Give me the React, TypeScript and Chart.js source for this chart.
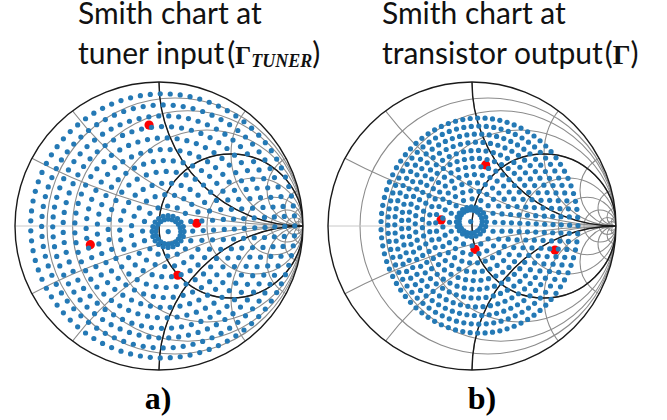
import React, { useEffect, useRef } from "react";
import { Chart, registerables } from "chart.js";

Chart.register(...registerables);

// ---- Smith chart grid values (normalized impedance) ----
const rLight = [0.125, 0.25, 0.5, 1, 2, 4, 8, 16, 32];
const xLight = [0.25, 0.5, 1, 2, 4, 8, 16, 32];
const rHeavy = [1];
const xHeavy = [1, -1];

// ---- a) tuner input: rings of tuner states (Γ units) ----
const ringCountA = [20, 20, 16, 23, 30, 36, 43, 50, 57, 63, 70, 76, 83];
const ringRadiusA = [0.087, 0.111, 0.174, 0.25, 0.326, 0.403, 0.476, 0.549, 0.625, 0.701, 0.771, 0.844, 0.917];
const ringCxA = [0.064, 0.063, 0.06, 0.057, 0.053, 0.05, 0.047, 0.043, 0.04, 0.035, 0.033, 0.029, 0.026];
const ringCyA = [-0.039, -0.038, -0.035, -0.032, -0.028, -0.024, -0.021, -0.017, -0.013, -0.01, -0.006, -0.003, 0.001];
const centerA = [0.064, -0.039];
const redXA = [-0.069, 0.262, -0.477, 0.13];
const redYA = [0.701, 0.019, -0.13, -0.342];

// ---- b) transistor output: mapped rings (Γ units) ----
const ringCountB = [20, 20, 16, 23, 30, 36, 43, 50, 57, 63, 70, 76, 83];
const ringRxB = [0.08, 0.104, 0.157, 0.21, 0.263, 0.315, 0.367, 0.42, 0.473, 0.526, 0.578, 0.631, 0.684];
const ringRyB = [0.08, 0.104, 0.163, 0.221, 0.279, 0.338, 0.396, 0.455, 0.513, 0.572, 0.63, 0.688, 0.747];
const ringCxB = [-0.009, -0.004, 0.001, 0.006, 0.011, 0.017, 0.022, 0.026, 0.032, 0.037, 0.042, 0.047, 0.052];
const ringCyB = [0.031, 0.029, 0.026, 0.024, 0.022, 0.019, 0.017, 0.015, 0.012, 0.01, 0.008, 0.006, 0.003];
const centerB = [-0.009, 0.031];
const redXB = [0.095, -0.215, 0.021, 0.576];
const redYB = [0.424, 0.042, -0.162, -0.167];

const BLUE = "#2479b5";
const RED = "#ff0000";

function ringPoints(counts: number[], cx: number[], cy: number[], rx: number[], ry: number[], center: number[]) {
  const pts: { x: number; y: number }[] = [{ x: center[0], y: center[1] }];
  counts.forEach((n, i) => {
    for (let k = 0; k < n; k++) {
      const t = (2 * Math.PI * k) / n;
      pts.push({ x: cx[i] + rx[i] * Math.cos(t), y: cy[i] + ry[i] * Math.sin(t) });
    }
  });
  return pts;
}

const smithGrid = {
  id: "smithGrid",
  beforeDatasetsDraw(chart: any) {
    const { ctx } = chart;
    const xs = chart.scales.x;
    const ys = chart.scales.y;
    const X = (v: number) => xs.getPixelForValue(v);
    const Y = (v: number) => ys.getPixelForValue(v);
    const unit = X(1) - X(0);
    const circle = (cx: number, cy: number, r: number, color: string, lw: number) => {
      ctx.beginPath();
      ctx.arc(X(cx), Y(cy), r * unit, 0, 2 * Math.PI);
      ctx.strokeStyle = color;
      ctx.lineWidth = lw;
      ctx.stroke();
    };
    ctx.save();
    ctx.beginPath();
    ctx.arc(X(0), Y(0), unit, 0, 2 * Math.PI);
    ctx.clip();
    const gray = "#8c8c8c";
    rLight.forEach((r) => circle(r / (1 + r), 0, 1 / (1 + r), gray, 1.1));
    xLight.forEach((x) => {
      circle(1, 1 / x, 1 / x, gray, 1.1);
      circle(1, -1 / x, 1 / x, gray, 1.1);
    });
    ctx.beginPath();
    ctx.moveTo(X(-1), Y(0));
    ctx.lineTo(X(1), Y(0));
    ctx.strokeStyle = "#c8c8c8";
    ctx.lineWidth = 1;
    ctx.stroke();
    rHeavy.forEach((r) => circle(r / (1 + r), 0, 1 / (1 + r), "#1a1a1a", 1.4));
    xHeavy.forEach((x) => circle(1, 1 / x, Math.abs(1 / x), "#1a1a1a", 1.4));
    ctx.restore();
    ctx.save();
    circle(0, 0, 1, "#1a1a1a", 1.4);
    ctx.restore();
  },
};

function makeChart(canvas: HTMLCanvasElement, blue: { x: number; y: number }[], red: { x: number; y: number }[]) {
  return new Chart(canvas, {
    type: "scatter",
    data: {
      datasets: [
        { data: blue, pointRadius: 2.6, pointBorderWidth: 0, backgroundColor: BLUE, borderColor: BLUE, clip: false } as any,
        { data: red, pointRadius: 4.6, pointBorderWidth: 0, backgroundColor: RED, borderColor: RED, clip: false } as any,
      ],
    },
    options: {
      animation: false,
      responsive: false,
      devicePixelRatio: 1,
      events: [],
      layout: { padding: 6 },
      scales: {
        x: { type: "linear", min: -1, max: 1, display: false },
        y: { type: "linear", min: -1, max: 1, display: false },
      },
      plugins: { legend: { display: false }, tooltip: { enabled: false }, title: { display: false } },
    },
    plugins: [smithGrid],
  });
}

export default function App() {
  const refA = useRef<HTMLCanvasElement>(null);
  const refB = useRef<HTMLCanvasElement>(null);
  useEffect(() => {
    const blueA = ringPoints(ringCountA, ringCxA, ringCyA, ringRadiusA, ringRadiusA, centerA);
    const blueB = ringPoints(ringCountB, ringCxB, ringCyB, ringRxB, ringRyB, centerB);
    const redA = redXA.map((x, i) => ({ x, y: redYA[i] }));
    const redB = redXB.map((x, i) => ({ x, y: redYB[i] }));
    const a = makeChart(refA.current!, blueA, redA);
    const b = makeChart(refB.current!, blueB, redB);
    return () => {
      a.destroy();
      b.destroy();
    };
  }, []);

  const sans: React.CSSProperties = { position: "absolute", fontFamily: "Lato", fontSize: 30, lineHeight: "30px", whiteSpace: "nowrap", color: "#111" };
  const serifB: React.CSSProperties = { fontFamily: "'Liberation Serif'", fontWeight: "bold" };

  return (
    <div style={{ position: "absolute", left: 0, top: 0, width: 667, height: 420, background: "#fff", overflow: "hidden" }}>
      <canvas ref={refA} width={300} height={300} style={{ position: "absolute", left: 9, top: 76, width: 300, height: 300 }} />
      <canvas ref={refB} width={300} height={300} style={{ position: "absolute", left: 322, top: 76, width: 300, height: 300 }} />
      <div style={{ ...sans, left: 78, top: -3 }}>Smith chart at</div>
      <div style={{ ...sans, left: 78, top: 37 }}>
        tuner input<span style={{ marginLeft: 3 }}>(</span><span style={{ ...serifB, fontSize: 25 }}>Γ</span>
        <span style={{ ...serifB, fontStyle: "italic", fontSize: 18, position: "relative", top: 3 }}>TUNER</span>)
      </div>
      <div style={{ ...sans, left: 382, top: -3 }}>Smith chart at</div>
      <div style={{ ...sans, left: 382, top: 37 }}>
        transistor output<span style={{ marginLeft: 2 }}>(</span><span style={{ ...serifB, fontSize: 28 }}>Γ</span>)
      </div>
      <div style={{ position: "absolute", left: 118, width: 80, top: 382, textAlign: "center", ...serifB, fontSize: 32, lineHeight: "32px" }}>a)</div>
      <div style={{ position: "absolute", left: 442, width: 80, top: 382, textAlign: "center", ...serifB, fontSize: 32, lineHeight: "32px" }}>b)</div>
    </div>
  );
}
